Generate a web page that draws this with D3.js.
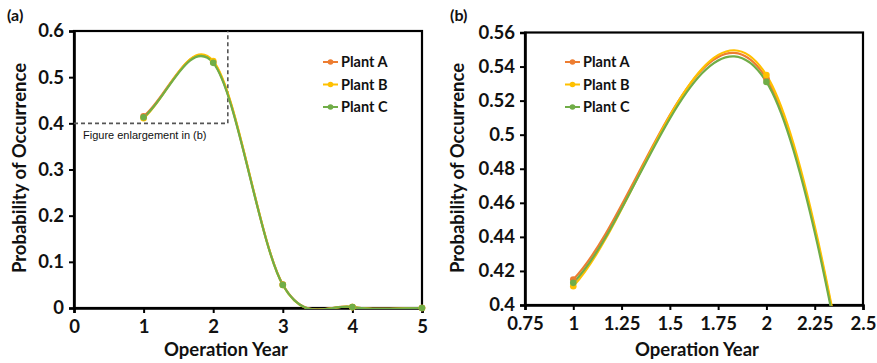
<!DOCTYPE html>
<html>
<head>
<meta charset="utf-8">
<script src="https://cdn.jsdelivr.net/npm/d3@7"></script>
<style>
  body { margin: 0; background: #fff; }
  text { font-family: Lato, "Open Sans", sans-serif; fill: #111; }
</style>
</head>
<body>
<svg id="chart" width="877" height="363"></svg>
<script>
// data
const years = [1, 2, 3, 4, 5];
const plantA = [0.415, 0.533, 0.051, 0.002, 0.000];
const plantB = [0.411, 0.535, 0.050, 0.002, 0.000];
const plantC = [0.413, 0.531, 0.050, 0.002, 0.000];
const seriesNames = ["Plant A", "Plant B", "Plant C"];
const seriesColors = ["#ED7D31", "#FFC000", "#70AD47"];

const xTicksA = [0, 1, 2, 3, 4, 5];
const yTicksA = [0, 0.1, 0.2, 0.3, 0.4, 0.5, 0.6];
const xTicksB = [0.75, 1, 1.25, 1.5, 1.75, 2, 2.25, 2.5];
const yTicksB = [0.4, 0.42, 0.44, 0.46, 0.48, 0.5, 0.52, 0.54, 0.56];

// zoom box drawn in panel (a)
const boxX = 2.21;
const boxY = 0.4;

const series = [plantA, plantB, plantC].map((vals, i) => ({
  name: seriesNames[i],
  color: seriesColors[i],
  values: years.map((yr, j) => ({ x: yr, y: vals[j] }))
}));

// smoothed line like the spreadsheet one: bezier, tangent = (next - prev)/6,
// end points pull a third of the way along the chord
function smoothCurve(context) {
  let pts;
  return {
    areaStart() {}, areaEnd() {},
    lineStart() { pts = []; },
    point(x, y) { pts.push([+x, +y]); },
    lineEnd() {
      const n = pts.length;
      if (!n) return;
      context.moveTo(pts[0][0], pts[0][1]);
      for (let i = 0; i < n - 1; i++) {
        const p0 = pts[i - 1], p1 = pts[i], p2 = pts[i + 1], p3 = pts[i + 2];
        const c1 = p0
          ? [p1[0] + (p2[0] - p0[0]) / 6, p1[1] + (p2[1] - p0[1]) / 6]
          : [p1[0] + (p2[0] - p1[0]) / 3, p1[1] + (p2[1] - p1[1]) / 3];
        const c2 = p3
          ? [p2[0] - (p3[0] - p1[0]) / 6, p2[1] - (p3[1] - p1[1]) / 6]
          : [p2[0] - (p2[0] - p1[0]) / 3, p2[1] - (p2[1] - p1[1]) / 3];
        context.bezierCurveTo(c1[0], c1[1], c2[0], c2[1], p2[0], p2[1]);
      }
    }
  };
}

const svg = d3.select("#chart");

function drawPanel(opt) {
  const x = d3.scaleLinear().domain(opt.xDomain).range([opt.left, opt.right]);
  const y = d3.scaleLinear().domain(opt.yDomain).range([opt.bottom, opt.top]);
  const g = svg.append("g");

  g.append("clipPath").attr("id", opt.id + "-clip")
    .append("rect")
    .attr("x", opt.left).attr("y", opt.top)
    .attr("width", opt.right - opt.left).attr("height", opt.bottom - opt.top + 1);

  // frame
  g.append("rect")
    .attr("x", opt.left).attr("y", opt.top)
    .attr("width", opt.right - opt.left).attr("height", opt.bottom - opt.top)
    .attr("fill", "none").attr("stroke", "#000").attr("stroke-width", 2.2);

  // axes
  const xAxis = g.append("g")
    .attr("transform", "translate(0," + opt.bottom + ")")
    .call(d3.axisBottom(x).tickValues(opt.xTicks).tickSize(5).tickPadding(7).tickFormat(d3.format("")));
  const yAxis = g.append("g")
    .attr("transform", "translate(" + opt.left + ",0)")
    .call(d3.axisLeft(y).tickValues(opt.yTicks).tickSize(5).tickPadding(5).tickFormat(d3.format("")));
  [xAxis, yAxis].forEach(a => {
    a.select(".domain").attr("stroke", "#000").attr("stroke-width", 2.6);
    a.selectAll(".tick line").attr("stroke", "#000").attr("stroke-width", 2);
    a.selectAll(".tick text")
      .style("font-family", "Lato, sans-serif")
      .style("font-size", "18.5px").style("font-weight", "bold").attr("fill", "#111");
  });

  if (opt.box) {
    g.append("path")
      .attr("d", "M" + x(0) + "," + y(boxY) + "H" + x(boxX) + "V" + opt.top)
      .attr("fill", "none").attr("stroke", "#555").attr("stroke-width", 1.6)
      .attr("stroke-dasharray", "4,3");
    g.append("text")
      .attr("x", x(0) + 9).attr("y", y(boxY) + 16)
      .style("font-family", "'Liberation Sans', Arial, sans-serif")
      .style("font-size", "11px").attr("fill", "#333")
      .text("Figure enlargement in (b)");
  }

  // curves
  const line = d3.line().x(d => x(d.x)).y(d => y(d.y)).curve(smoothCurve);
  const lines = g.append("g").attr("clip-path", "url(#" + opt.id + "-clip)");
  series.forEach(s => {
    lines.append("path")
      .datum(s.values)
      .attr("d", line)
      .attr("fill", "none").attr("stroke", s.color).attr("stroke-width", 2.2);
  });
  series.forEach(s => {
    g.append("g").selectAll("circle")
      .data(s.values.filter(d => d.x >= opt.xDomain[0] && d.x <= opt.xDomain[1] &&
                                 d.y >= opt.yDomain[0] && d.y <= opt.yDomain[1]))
      .enter().append("circle")
      .attr("cx", d => x(d.x)).attr("cy", d => y(d.y)).attr("r", 3.3)
      .attr("fill", s.color);
  });

  // legend
  const leg = g.append("g");
  series.forEach((s, i) => {
    const ly = opt.legendY + i * 22.5;
    leg.append("line")
      .attr("x1", opt.legendX).attr("x2", opt.legendX + 15)
      .attr("y1", ly).attr("y2", ly)
      .attr("stroke", s.color).attr("stroke-width", 2);
    leg.append("circle")
      .attr("cx", opt.legendX + 7.5).attr("cy", ly).attr("r", 2.8).attr("fill", s.color);
    leg.append("text")
      .attr("x", opt.legendX + 18).attr("y", ly + 5)
      .style("font-size", "14.5px").style("font-weight", "bold")
      .text(s.name);
  });

  // titles
  g.append("text")
    .attr("x", opt.xTitleX).attr("y", 355.5)
    .attr("text-anchor", "middle")
    .style("font-size", "18.5px").style("font-weight", "bold")
    .text("Operation Year");
  g.append("text")
    .attr("transform", "translate(" + opt.yTitleX + ",168) rotate(-90)")
    .attr("text-anchor", "middle")
    .style("font-size", "18.5px").style("font-weight", "bold")
    .text("Probability of Occurrence");
  g.append("text")
    .attr("x", opt.labelX).attr("y", 21)
    .style("font-size", "16px").style("font-weight", "bold")
    .text(opt.label);
}

drawPanel({
  id: "a", label: "(a)", labelX: 7,
  left: 74, right: 422, top: 31, bottom: 308,
  xDomain: [0, 5], yDomain: [0, 0.6],
  xTicks: xTicksA, yTicks: yTicksA,
  legendX: 323, legendY: 62,
  xTitleX: 226, yTitleX: 26, box: true
});

drawPanel({
  id: "b", label: "(b)", labelX: 450,
  left: 525, right: 863, top: 32.5, bottom: 305,
  xDomain: [0.75, 2.5], yDomain: [0.4, 0.56],
  xTicks: xTicksB, yTicks: yTicksB,
  legendX: 565, legendY: 62,
  xTitleX: 697, yTitleX: 464, box: false
});
</script>
</body>
</html>
